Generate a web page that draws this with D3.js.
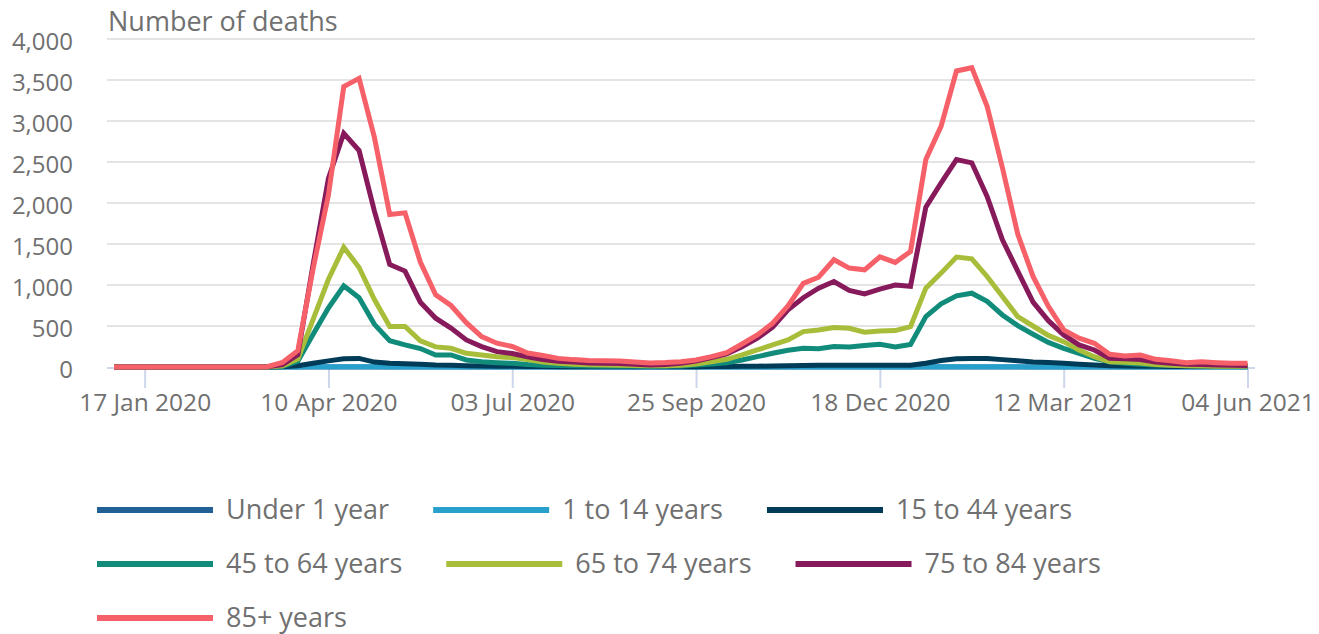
<!DOCTYPE html>
<html>
<head>
<meta charset="utf-8">
<script src="https://cdn.jsdelivr.net/npm/d3@7"></script>
<style>
  body { margin: 0; background: #fff; }
  text { font-family: "Open Sans", sans-serif; fill: #707070; }
</style>
</head>
<body>
<div id="chart"></div>
<script>
// Week ending dates (Fridays)
const weeks = [
  '2020-01-03','2020-01-10','2020-01-17','2020-01-24','2020-01-31','2020-02-07','2020-02-14','2020-02-21','2020-02-28',
  '2020-03-06','2020-03-13','2020-03-20','2020-03-27','2020-04-03','2020-04-10','2020-04-17','2020-04-24',
  '2020-05-01','2020-05-08','2020-05-15','2020-05-22','2020-05-29','2020-06-05','2020-06-12','2020-06-19','2020-06-26',
  '2020-07-03','2020-07-10','2020-07-17','2020-07-24','2020-07-31','2020-08-07','2020-08-14','2020-08-21','2020-08-28',
  '2020-09-04','2020-09-11','2020-09-18','2020-09-25','2020-10-02','2020-10-09','2020-10-16','2020-10-23','2020-10-30',
  '2020-11-06','2020-11-13','2020-11-20','2020-11-27','2020-12-04','2020-12-11','2020-12-18','2020-12-25',
  '2021-01-01','2021-01-08','2021-01-15','2021-01-22','2021-01-29','2021-02-05','2021-02-12','2021-02-19','2021-02-26',
  '2021-03-05','2021-03-12','2021-03-19','2021-03-26','2021-04-02','2021-04-09','2021-04-16','2021-04-23','2021-04-30',
  '2021-05-07','2021-05-14','2021-05-21','2021-05-28','2021-06-04'
];

const tickWeeks = ['2020-01-17','2020-04-10','2020-07-03','2020-09-25','2020-12-18','2021-03-12','2021-06-04'];
const yTicks = [0, 500, 1000, 1500, 2000, 2500, 3000, 3500, 4000];

const seriesNames = ['Under 1 year','1 to 14 years','15 to 44 years','45 to 64 years','65 to 74 years','75 to 84 years','85+ years'];
const seriesColors = ['#206095','#27a0cc','#003c57','#118c7b','#a8bd3a','#871a5b','#f66068'];

const under1 = [
  0,0,0,0,0,0,0,0,0,0, 0,0,0,1,1,1,1,0,1,0, 0,0,0,0,0,0,0,0,0,0,
  0,0,0,0,0,0,0,0,0,0, 0,0,0,0,0,0,0,0,0,0, 0,0,0,1,1,1,1,1,0,0,
  0,0,0,0,0,0,0,0,0,0, 0,0,0,0,0
];
const age1to14 = [
  0,0,0,0,0,0,0,0,0,0, 0,0,1,2,3,4,4,3,1,1, 1,0,0,0,0,0,0,0,0,0,
  0,0,0,0,0,0,0,0,0,0, 0,0,0,0,0,0,0,0,0,0, 0,1,1,2,3,4,4,4,3,2,
  1,1,1,0,0,0,0,0,0,0, 0,0,0,0,0
];
const age15to44 = [
  0,0,0,0,0,0,0,0,0,0, 0,2,15,45,75,100,105,60,45,40, 35,25,22,15,12,10,8,6,5,4,
  4,3,3,3,2,2,2,3,4,5, 6,8,10,12,15,18,20,22,22,22, 22,22,22,45,80,100,105,105,90,75,
  60,55,45,35,25,15,12,10,8,7, 6,5,5,5,5
];
const age45to64 = [
  0,0,0,0,0,0,0,0,0,0, 0,7,70,400,720,990,844,520,320,270, 225,147,147,86,65,53,45,30,22,18,
  15,12,10,10,8,7,8,12,24,37, 53,86,126,167,205,228,222,250,245,262, 278,245,275,615,770,868,900,800,635,505,
  400,300,228,167,106,65,45,35,25,20, 15,12,10,8,8
];
const age65to74 = [
  0,0,0,0,0,0,0,0,0,0, 0,15,100,580,1070,1460,1214,823,494,494, 320,245,228,167,147,126,115,92,60,45,
  35,28,25,22,18,15,15,20,37,65, 94,147,208,269,330,432,452,481,473,424, 440,444,493,961,1145,1340,1320,1104,859,615,
  500,385,309,208,126,65,57,50,30,22, 15,12,10,8,8
];
const age75to84 = [
  0,0,0,0,0,0,0,0,0,0, 2,30,150,1250,2300,2850,2640,1900,1250,1170, 790,595,475,330,248,187,165,125,90,70,
  60,50,45,42,32,25,30,45,73,114, 159,248,351,485,697,845,961,1043,933,892, 949,1000,985,1950,2245,2530,2490,2081,1552,1170,
  790,565,391,269,208,106,100,90,60,45, 35,30,25,20,18
];
const age85plus = [
  0,0,0,0,0,0,0,0,0,0, 3,55,200,1200,2100,3420,3520,2800,1860,1880, 1280,880,750,540,370,290,250,170,140,105,
  90,80,75,72,60,50,55,65,86,126, 175,280,390,535,745,1020,1095,1308,1206,1185, 1344,1275,1409,2530,2937,3610,3650,3180,2430,1620,
  1104,740,452,351,289,155,135,145,94,77, 53,65,53,45,45
];

const seriesValues = [under1, age1to14, age15to44, age45to64, age65to74, age75to84, age85plus];

class LineChart {
  constructor(_config) {
    this.config = {
      parentElement: _config.parentElement,
      containerWidth: 1319,
      containerHeight: 634,
      plotLeft: 107,
      plotRight: 1255,
      xStart: 114,
      xEnd: 1247.5,
      yTop: 39,
      yBottom: 367,
      lineWidth: 5
    };
    this.initVis();
  }

  initVis() {
    let vis = this;
    const parse = d3.timeParse('%Y-%m-%d');
    vis.dates = weeks.map(parse);
    vis.series = seriesNames.map((name, i) => ({
      name: name,
      color: seriesColors[i],
      values: seriesValues[i].map((v, j) => ({ date: vis.dates[j], value: v }))
    }));

    vis.xScale = d3.scaleTime()
      .domain(d3.extent(vis.dates))
      .range([vis.config.xStart, vis.config.xEnd]);

    vis.yScale = d3.scaleLinear()
      .domain([0, 4000])
      .range([vis.config.yBottom, vis.config.yTop]);

    vis.svg = d3.select(vis.config.parentElement).append('svg')
      .attr('width', vis.config.containerWidth)
      .attr('height', vis.config.containerHeight);

    vis.renderVis();
  }

  renderVis() {
    let vis = this;
    const c = vis.config;

    // gridlines
    vis.svg.append('g').selectAll('line')
      .data(yTicks.filter(d => d > 0))
      .join('line')
      .attr('x1', c.plotLeft)
      .attr('x2', c.plotRight)
      .attr('y1', d => vis.yScale(d))
      .attr('y2', d => vis.yScale(d))
      .attr('stroke', '#e4e4e4')
      .attr('stroke-width', 2);

    // y labels
    vis.svg.append('g').selectAll('text')
      .data(yTicks)
      .join('text')
      .attr('x', 73)
      .attr('y', d => vis.yScale(d))
      .attr('dy', '0.45em')
      .attr('text-anchor', 'end')
      .style('font-size', '24px')
      .text(d => d3.format(',')(d));

    // axis title
    vis.svg.append('text')
      .attr('x', 108)
      .attr('y', 31)
      .style('font-size', '27px')
      .text('Number of deaths');

    // x axis
    const tickDates = tickWeeks.map(d3.timeParse('%Y-%m-%d'));
    vis.xAxis = d3.axisBottom(vis.xScale)
      .tickValues(tickDates)
      .tickSize(20)
      .tickSizeOuter(0)
      .tickPadding(6)
      .tickFormat(d3.timeFormat('%d %b %Y'));

    vis.xAxisG = vis.svg.append('g')
      .attr('transform', `translate(0,${c.yBottom + 1})`)
      .call(vis.xAxis);
    vis.xAxisG.select('.domain').remove();
    vis.xAxisG.append('line')
      .attr('x1', c.plotLeft)
      .attr('x2', c.plotRight)
      .attr('stroke', '#cdd6ea')
      .attr('stroke-width', 2);
    vis.xAxisG.selectAll('.tick line')
      .attr('stroke', '#cdd6ea')
      .attr('stroke-width', 2);
    vis.xAxisG.selectAll('.tick text')
      .style('font-size', '24.5px')
      .attr('fill', '#707070')
      .attr('font-family', '"Open Sans", sans-serif');

    // lines
    const line = d3.line()
      .x(d => vis.xScale(d.date))
      .y(d => vis.yScale(d.value));

    vis.svg.append('g').selectAll('path')
      .data(vis.series)
      .join('path')
      .attr('d', d => line(d.values))
      .attr('fill', 'none')
      .attr('stroke', d => d.color)
      .attr('stroke-width', c.lineWidth)
      .attr('stroke-linejoin', 'miter');

    vis.addLegend();
  }

  addLegend() {
    let vis = this;
    const startX = 97, rowH = 54, firstRow = 510, swatch = 116, gap = 13, itemGap = 44, maxX = 1310;
    let x = startX, y = firstRow;
    const legend = vis.svg.append('g');

    vis.series.forEach(s => {
      const g = legend.append('g');
      const t = g.append('text')
        .attr('y', 0)
        .attr('dy', '0.35em')
        .style('font-size', '27px')
        .text(s.name);
      const w = t.node().getComputedTextLength();
      if (x > startX && x + swatch + gap + w > maxX) {
        x = startX;
        y += rowH;
      }
      g.attr('transform', `translate(${x},${y})`);
      g.insert('line', 'text')
        .attr('x1', 0).attr('x2', swatch)
        .attr('stroke', s.color)
        .attr('stroke-width', 6);
      t.attr('x', swatch + gap);
      x += swatch + gap + w + itemGap;
    });
  }
}

new LineChart({ parentElement: '#chart' });
</script>
</body>
</html>
